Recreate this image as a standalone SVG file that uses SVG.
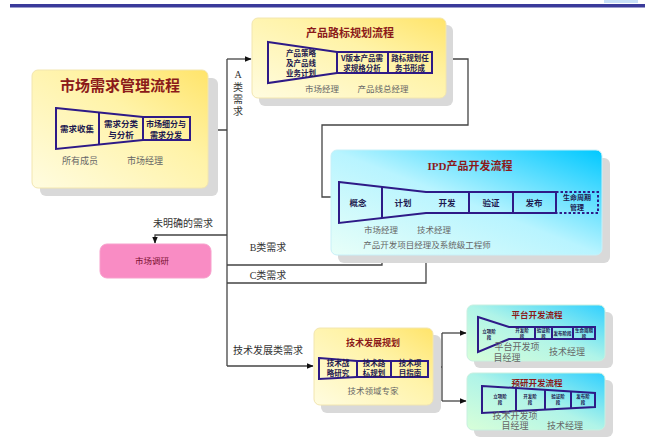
<svg xmlns="http://www.w3.org/2000/svg" width="667" height="442" viewBox="0 0 667 442">
<defs>
<linearGradient id="gy" x1="0" y1="1" x2="1" y2="0">
<stop offset="0" stop-color="#FFFCE0"/><stop offset="0.6" stop-color="#FFF3A8"/><stop offset="1" stop-color="#FFE46A"/>
</linearGradient>
<linearGradient id="gc" x1="0" y1="1" x2="1" y2="0">
<stop offset="0" stop-color="#E8FFF8"/><stop offset="0.5" stop-color="#B8F4FF"/><stop offset="1" stop-color="#00C8FF"/>
</linearGradient>
<linearGradient id="gg" x1="0" y1="1" x2="1" y2="0">
<stop offset="0" stop-color="#D8FFD8"/><stop offset="0.5" stop-color="#B0F4E8"/><stop offset="1" stop-color="#30D0FF"/>
</linearGradient>
<marker id="ar" viewBox="0 0 10 10" refX="9" refY="5" markerWidth="7" markerHeight="7" orient="auto" markerUnits="userSpaceOnUse">
<path d="M0,1 L10,5 L0,9 z" fill="#111"/>
</marker>
<style>
.sh{fill:#D9D9D9}
.yb{fill:url(#gy);stroke:#F2E6B0;stroke-width:1}
.cb{fill:url(#gc);stroke:#C8F0F8;stroke-width:1}
.gb{fill:url(#gg);stroke:#C8F0E0;stroke-width:1}
.fn{fill:none;stroke:#2E1A87;stroke-width:2}
.dv{stroke:#2E1A87;stroke-width:2}
.t{font-family:"Liberation Serif","Noto Sans CJK SC",serif;fill:#8B1A1A;font-weight:bold;text-anchor:middle}
.b{font-family:"Noto Sans CJK SC",sans-serif;fill:#1E1A50;font-weight:bold;text-anchor:middle}
.l{font-family:"Liberation Serif","Noto Sans CJK SC",serif;fill:#666;text-anchor:middle}
.c{fill:none;stroke:#444;stroke-width:1.3}
.cl{font-family:"Liberation Serif","Noto Sans CJK SC",serif;fill:#333;text-anchor:middle;font-size:10px}
</style>
</defs>
<rect width="667" height="442" fill="#fff"/>
<rect x="604" y="0" width="34" height="3" fill="#C8E0F8"/>
<rect x="10" y="4" width="635" height="3.5" fill="#3A3A9A"/>

<g id="connectors">
<path class="c" d="M190,130 H227"/>
<path class="c" d="M227,59 V366"/>
<path class="c" d="M227,59 H251" marker-end="url(#ar)"/>
<path class="c" d="M432,59 H468 V125 H322 V197 H337" marker-end="url(#ar)"/>
<path class="c" d="M227,235 H155 V243" marker-end="url(#ar)"/>
<path class="c" d="M227,265 H382 V219" marker-end="url(#ar)"/>
<path class="c" d="M227,283 H426 V214" marker-end="url(#ar)"/>
<path class="c" d="M227,366 H313" marker-end="url(#ar)"/>
<path class="c" d="M428,367 H442"/>
<path class="c" d="M442,333 V401"/>
<path class="c" d="M442,333 H466" marker-end="url(#ar)"/>
<path class="c" d="M442,401 H466" marker-end="url(#ar)"/>
<text class="cl" x="238" y="78">A</text>
<text class="cl" x="238" y="91">类</text>
<text class="cl" x="238" y="103">需</text>
<text class="cl" x="238" y="115">求</text>
<text class="cl" x="183" y="227">未明确的需求</text>
<text class="cl" x="268" y="251">B类需求</text>
<text class="cl" x="268" y="279">C类需求</text>
<text class="cl" x="268" y="354">技术发展类需求</text>
</g>

<g id="market-demand">
<rect class="sh" x="40" y="78" width="178" height="118" rx="6"/>
<rect class="yb" x="32" y="70" width="176" height="118" rx="6"/>
<text class="t" x="120" y="91" font-size="15">市场需求管理流程</text>
<path class="fn" d="M56,108 L143,117 H190 V140 H143 L56,149 Z"/>
<line class="dv" x1="99" y1="112.5" x2="99" y2="144.5"/>
<line class="dv" x1="143" y1="117" x2="143" y2="140"/>
<text class="b" x="77" y="132" font-size="8.5">需求收集</text>
<text class="b" x="121" y="127" font-size="8.5">需求分类</text>
<text class="b" x="121" y="138" font-size="8.5">与分析</text>
<text class="b" x="166" y="127" font-size="8">市场细分与</text>
<text class="b" x="166" y="138" font-size="8">需求分发</text>
<text class="l" x="80" y="164" font-size="9">所有成员</text>
<text class="l" x="145" y="164" font-size="9">市场经理</text>
</g>

<g id="product-roadmap">
<rect class="sh" x="259" y="25" width="194" height="81" rx="6"/>
<rect class="yb" x="252" y="18" width="194" height="80" rx="6"/>
<text class="t" x="350" y="37" font-size="11">产品路标规划流程</text>
<path class="fn" d="M268,42 L337,52 H432 V73 H337 L268,83 Z"/>
<line class="dv" x1="337" y1="52" x2="337" y2="73"/>
<line class="dv" x1="388" y1="52" x2="388" y2="73"/>
<text class="b" x="301" y="56" font-size="7.5">产品策略</text>
<text class="b" x="301" y="66" font-size="7.5">及产品线</text>
<text class="b" x="301" y="76" font-size="7.5">业务计划</text>
<text class="b" x="362" y="61" font-size="7.5">V版本产品需</text>
<text class="b" x="362" y="71" font-size="7.5">求规格分析</text>
<text class="b" x="410" y="61" font-size="7.5">路标规划任</text>
<text class="b" x="410" y="71" font-size="7.5">务书形成</text>
<text class="l" x="322" y="92" font-size="8.5">市场经理</text>
<text class="l" x="383" y="92" font-size="8.5">产品线总经理</text>
</g>

<g id="ipd">
<rect class="sh" x="338" y="158" width="272" height="105" rx="6"/>
<rect class="cb" x="331" y="150" width="271" height="105" rx="6"/>
<text class="t" x="470" y="170" font-size="11">IPD产品开发流程</text>
<path class="fn" d="M339,182 L426,192 H556 V213 H426 L339,223 Z"/>
<line class="dv" x1="382" y1="187" x2="382" y2="218"/>
<line class="dv" x1="469" y1="192" x2="469" y2="213"/>
<line class="dv" x1="513" y1="192" x2="513" y2="213"/>
<path d="M556,192 H598 V213 H556" fill="none" stroke="#2E1A87" stroke-width="2" stroke-dasharray="2.5,2"/>
<text class="b" x="358" y="206" font-size="8.5">概念</text>
<text class="b" x="403" y="206" font-size="8.5">计划</text>
<text class="b" x="447" y="206" font-size="8.5">开发</text>
<text class="b" x="491" y="206" font-size="8.5">验证</text>
<text class="b" x="534" y="206" font-size="8.5">发布</text>
<text class="b" x="577" y="200" font-size="7">生命周期</text>
<text class="b" x="577" y="210" font-size="7">管理</text>
<text class="l" x="381" y="233" font-size="8.5">市场经理</text>
<text class="l" x="434" y="233" font-size="8.5">技术经理</text>
<text class="l" x="427" y="248" font-size="8.5">产品开发项目经理及系统级工程师</text>
</g>

<g id="market-research">
<rect x="100" y="244" width="111" height="34" rx="7" fill="#F98CC4" stroke="#F7A0CC"/>
<text x="152" y="264" font-family="Noto Sans CJK SC,sans-serif" font-size="8.5" fill="#7A1030" text-anchor="middle">市场调研</text>
</g>

<g id="tech-plan">
<rect class="sh" x="321" y="335" width="120" height="78" rx="6"/>
<rect class="yb" x="314" y="328" width="119" height="77" rx="6"/>
<text class="t" x="373" y="346" font-size="9">技术发展规划</text>
<path class="fn" d="M319,358 L357,361 H428 V377 H357 L319,379 Z"/>
<line class="dv" x1="357" y1="361" x2="357" y2="377"/>
<line class="dv" x1="391" y1="361" x2="391" y2="377"/>
<text class="b" x="338" y="366" font-size="7.5">技术战</text>
<text class="b" x="338" y="375.5" font-size="7.5">略研究</text>
<text class="b" x="374" y="366" font-size="7.5">技术路</text>
<text class="b" x="374" y="375.5" font-size="7.5">标规划</text>
<text class="b" x="410" y="366" font-size="7.5">技术项</text>
<text class="b" x="410" y="375.5" font-size="7.5">目指南</text>
<text class="l" x="373" y="394" font-size="8.5">技术领域专家</text>
</g>

<g id="platform">
<rect class="sh" x="474" y="312" width="139" height="56" rx="6"/>
<rect class="gb" x="467" y="305" width="138" height="56" rx="6"/>
<text class="t" x="537" y="318" font-size="8.5">平台开发流程</text>
<path class="fn" d="M478,317 L509,327 H595 V339 H509 L478,352 Z"/>
<line class="dv" x1="535" y1="327" x2="535" y2="339"/>
<line class="dv" x1="552" y1="327" x2="552" y2="339"/>
<line class="dv" x1="573" y1="327" x2="573" y2="339"/>
<text class="b" x="489" y="333" font-size="4.5">立项阶</text>
<text class="b" x="489" y="339" font-size="4.5">段</text>
<text class="b" x="522" y="332" font-size="4.5">开发阶</text>
<text class="b" x="522" y="337.5" font-size="4.5">段</text>
<text class="b" x="543.5" y="332" font-size="4.5">验证阶</text>
<text class="b" x="543.5" y="337.5" font-size="4.5">段</text>
<text class="b" x="562.5" y="335" font-size="4.5">发布阶段</text>
<text class="b" x="584" y="332" font-size="4.5">生命周期</text>
<text class="b" x="584" y="337.5" font-size="4.5">段</text>
<text class="l" x="517" y="350" font-size="9">平台开发项</text>
<text class="l" x="507" y="361" font-size="9">目经理</text>
<text class="l" x="567" y="355" font-size="9">技术经理</text>
</g>

<g id="pre-research">
<rect class="sh" x="474" y="380" width="139" height="57" rx="6"/>
<rect class="gb" x="467" y="373" width="138" height="57" rx="6"/>
<text class="t" x="537" y="386" font-size="8.5">预研开发流程</text>
<path class="fn" d="M482,386 L595,393 V407 L482,413 Z"/>
<line class="dv" x1="516" y1="388" x2="516" y2="411"/>
<line class="dv" x1="545" y1="390" x2="545" y2="410"/>
<line class="dv" x1="571" y1="391" x2="571" y2="408"/>
<text class="b" x="500" y="398" font-size="4.5">立项阶</text>
<text class="b" x="500" y="404" font-size="4.5">段</text>
<text class="b" x="530" y="398" font-size="4.5">开发阶</text>
<text class="b" x="530" y="404" font-size="4.5">段</text>
<text class="b" x="558" y="398" font-size="4.5">验证阶</text>
<text class="b" x="558" y="404" font-size="4.5">段</text>
<text class="b" x="583" y="398" font-size="4.5">发布阶</text>
<text class="b" x="583" y="404" font-size="4.5">段</text>
<text class="l" x="515" y="419" font-size="9">技术开发项</text>
<text class="l" x="515" y="429" font-size="9">目经理</text>
<text class="l" x="565" y="429" font-size="9">技术经理</text>
</g>
</svg>
